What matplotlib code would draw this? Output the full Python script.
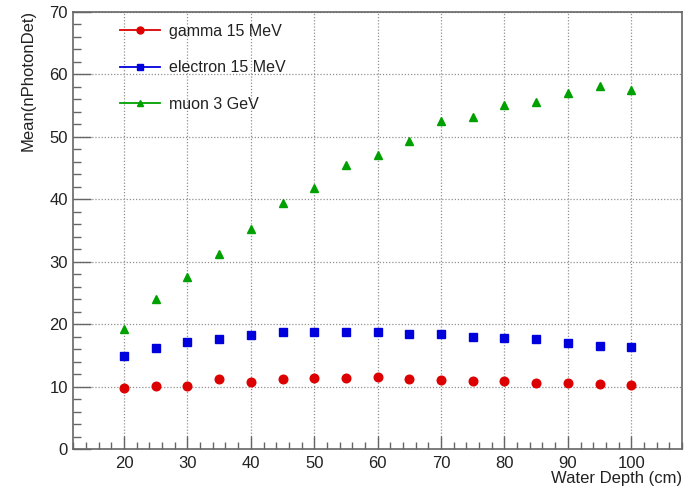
import numpy as np
import matplotlib.pyplot as plt
from matplotlib.ticker import MultipleLocator
from matplotlib.lines import Line2D

plt.rcParams['font.family'] = ['Liberation Sans', 'DejaVu Sans']

# profundidades de agua (cm)
depth = [20, 25, 30, 35, 40, 45, 50, 55, 60, 65, 70, 75, 80, 85, 90, 95, 100]
# valores medios de nPhotonDet
gamma = [9.8, 10.2, 10.1, 11.2, 10.8, 11.2, 11.35, 11.35, 11.6, 11.2, 11.05,
         10.85, 10.95, 10.6, 10.6, 10.45, 10.35]
electron = [14.9, 16.2, 17.1, 17.7, 18.25, 18.75, 18.75, 18.75, 18.75, 18.4,
            18.4, 18.0, 17.85, 17.6, 17.0, 16.6, 16.35]
muon = [19.3, 24.0, 27.5, 31.2, 35.3, 39.4, 41.8, 45.5, 47.0, 49.3, 52.5,
        53.2, 55.0, 55.5, 57.0, 58.1, 57.4]
labels = ['gamma 15 MeV', 'electron 15 MeV', 'muon 3 GeV']

fig = plt.figure(figsize=(6.84, 4.93), dpi=100)
ax = fig.add_axes([0.1072, 0.0886, 0.8898, 0.8877])

c_red, c_blue, c_green = '#dd0000', '#0000dd', '#00a000'
ax.plot(depth, gamma, 'o', color=c_red, ms=6.2, zorder=3)
ax.plot(depth, electron, 's', color=c_blue, ms=6.2, zorder=3)
ax.plot(depth, muon, '^', color=c_green, ms=5.2, zorder=3)

ax.set_xlim(12, 108)
ax.set_ylim(0, 70)
ax.xaxis.set_major_locator(MultipleLocator(10))
ax.xaxis.set_minor_locator(MultipleLocator(2))
ax.yaxis.set_major_locator(MultipleLocator(10))
ax.yaxis.set_minor_locator(MultipleLocator(2))

ax.grid(True, which='major', color='#909090', linestyle=(0, (1, 1.5)), linewidth=0.9)
ax.tick_params(which='both', direction='in', top=False, right=False, color='#666666',
               labelsize=12, labelcolor='#222222')
ax.tick_params(axis='x', which='major', length=9.5, width=1, pad=5)
ax.tick_params(axis='x', which='minor', length=5, width=1)
ax.tick_params(axis='y', which='major', length=13, width=1, pad=4)
ax.tick_params(axis='y', which='minor', length=6, width=1)
for s in ax.spines.values():
    s.set_color('#666666')
    s.set_linewidth(1.2)

ax.set_xlabel('Water Depth (cm)', fontsize=12, color='#222222')
ax.xaxis.set_label_coords(1.0, -0.05)
ax.xaxis.label.set_horizontalalignment('right')
ax.set_ylabel('Mean(nPhotonDet)', fontsize=12, color='#222222')
ax.yaxis.set_label_coords(-0.062, 1.005)
ax.yaxis.label.set_horizontalalignment('right')

handles = [
    Line2D([], [], color=c_red, marker='o', ms=5, lw=1.3),
    Line2D([], [], color=c_blue, marker='s', ms=5, lw=1.3),
    Line2D([], [], color=c_green, marker='^', ms=4, lw=1.3),
]
ax.legend(handles, labels, loc='upper left', bbox_to_anchor=(0.0535, 1.005),
          frameon=False, fontsize=11.5, handlelength=2.5, labelspacing=1.35,
          handletextpad=0.55, labelcolor='#222222')

fig.savefig('out.png', dpi=100)
